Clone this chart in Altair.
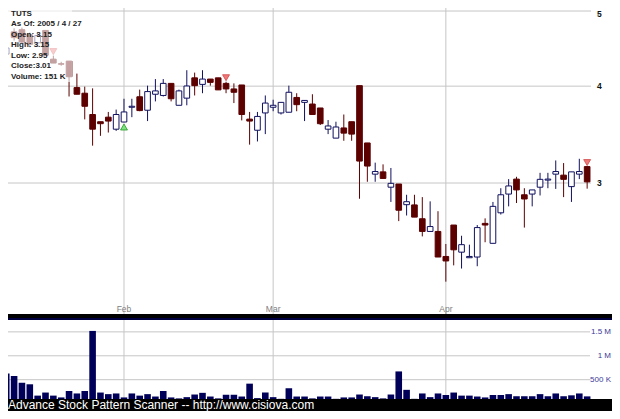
import altair as alt
import pandas as pd

# ---------------- data ----------------
ticker = "TUTS"
dates = [
    "2005-01-10", "2005-01-11", "2005-01-12", "2005-01-13", "2005-01-14",
    "2005-01-18", "2005-01-19", "2005-01-20", "2005-01-21", "2005-01-24",
    "2005-01-25", "2005-01-26", "2005-01-27", "2005-01-28", "2005-01-31",
    "2005-02-01", "2005-02-02", "2005-02-03", "2005-02-04", "2005-02-07",
    "2005-02-08", "2005-02-09", "2005-02-10", "2005-02-11", "2005-02-14",
    "2005-02-15", "2005-02-16", "2005-02-17", "2005-02-18", "2005-02-22",
    "2005-02-23", "2005-02-24", "2005-02-25", "2005-02-28",
    "2005-03-01", "2005-03-02", "2005-03-03", "2005-03-04", "2005-03-07",
    "2005-03-08", "2005-03-09", "2005-03-10", "2005-03-11", "2005-03-14",
    "2005-03-15", "2005-03-16", "2005-03-17", "2005-03-18", "2005-03-21",
    "2005-03-22", "2005-03-23", "2005-03-24", "2005-03-28", "2005-03-29",
    "2005-03-30", "2005-03-31",
    "2005-04-01", "2005-04-04", "2005-04-05", "2005-04-06", "2005-04-07",
    "2005-04-08", "2005-04-11", "2005-04-12", "2005-04-13", "2005-04-14",
    "2005-04-15", "2005-04-18", "2005-04-19", "2005-04-20", "2005-04-21",
    "2005-04-22", "2005-04-25", "2005-04-26", "2005-04-27",
]
opens = [4.40, 4.70, 4.73, 4.66, 4.55, 4.72, 4.334, 4.275, 4.309, 3.983,
         3.917, 3.677, 3.599, 3.648, 3.520, 3.596, 3.757, 3.876, 3.724, 3.905,
         3.891, 4.033, 3.779, 3.860, 4.100, 4.021, 4.085, 4.100, 4.033, 3.967,
         4.014, 3.627, 3.509, 3.694, 3.757, 3.694, 3.702, 3.868, 3.812, 3.793,
         3.749, 3.520, 3.428, 3.533, 3.599, 4.006, 3.379, 3.080, 3.101, 2.963,
         2.991, 2.813, 2.811, 2.698, 2.598, 2.598, 2.412, 2.648, 2.443, 2.403,
         2.408, 2.661, 2.508, 2.746, 2.903, 3.035, 2.897, 2.903, 2.963, 3.026,
         3.080, 3.071, 2.968, 3.080, 3.15]
highs = [4.52, 4.75, 4.76, 4.69, 4.70, 4.72, 4.38, 4.30, 4.309, 4.152,
         3.994, 3.974, 3.599, 3.705, 3.731, 3.853, 3.853, 3.959, 4.006, 4.085,
         4.085, 4.033, 3.959, 4.194, 4.164, 4.194, 4.085, 4.100, 4.053, 4.033,
         4.014, 3.705, 3.705, 3.891, 3.842, 3.812, 4.006, 3.917, 3.834, 3.905,
         3.749, 3.617, 3.599, 3.677, 3.599, 4.006, 3.379, 3.187, 3.171, 3.137,
         2.991, 2.897, 2.897, 2.877, 2.841, 2.759, 2.503, 2.648, 2.565, 2.498,
         2.648, 2.701, 2.836, 2.954, 3.035, 3.056, 2.954, 2.939, 3.092, 3.092,
         3.208, 3.183, 3.101, 3.224, 3.15]
lows = [4.11, 4.58, 4.53, 4.49, 4.50, 4.385, 4.284, 4.25, 3.879, 3.905,
        3.624, 3.352, 3.451, 3.485, 3.502, 3.596, 3.648, 3.713, 3.606, 3.823,
        3.879, 3.823, 3.779, 3.779, 3.891, 3.917, 4.006, 3.956, 3.917, 3.804,
        3.613, 3.362, 3.394, 3.469, 3.713, 3.677, 3.702, 3.713, 3.606, 3.677,
        3.564, 3.469, 3.428, 3.401, 3.401, 2.863, 3.011, 3.011, 3.041, 2.836,
        2.679, 2.724, 2.711, 2.560, 2.598, 2.408, 2.238, 2.349, 2.327, 2.403,
        2.343, 2.516, 2.508, 2.732, 2.799, 2.827, 2.628, 2.799, 2.891, 2.954,
        2.948, 2.877, 2.836, 3.035, 2.95]
closes = [4.48, 4.62, 4.56, 4.53, 4.65, 4.385, 4.284, 4.27, 4.113, 3.905,
          3.768, 3.520, 3.578, 3.606, 3.677, 3.705, 3.768, 3.720, 3.936, 3.944,
          4.033, 3.853, 3.944, 4.002, 4.006, 4.085, 4.045, 3.956, 3.967, 3.928,
          3.677, 3.606, 3.656, 3.804, 3.779, 3.812, 3.928, 3.786, 3.834, 3.677,
          3.578, 3.554, 3.543, 3.479, 3.469, 3.202, 3.155, 3.104, 3.041, 2.997,
          2.767, 2.838, 2.711, 2.598, 2.636, 2.408, 2.380, 2.460, 2.498, 2.412,
          2.628, 2.648, 2.799, 2.897, 2.974, 2.939, 2.861, 2.939, 3.033, 3.035,
          3.104, 3.033, 3.101, 3.104, 3.01]
volumes = [629000, 577000, 436000, 404000, 167000, 231000, 167000, 129000, 263000, 212000,
           263000, 1520000, 231000, 198000, 212000, 129000, 212000, 167000, 198000, 148000,
           263000, 129000, 109000, 135000, 190000, 225000, 148000, 109000, 185000, 185000,
           148000, 417000, 115000, 231000, 135000, 100000, 321000, 148000, 148000, 109000,
           148000, 148000, 100000, 129000, 129000, 190000, 154000, 135000, 109000, 190000,
           673000, 288000, 100000, 212000, 135000, 212000, 180000, 231000, 167000, 167000,
           148000, 129000, 180000, 180000, 198000, 154000, 154000, 154000, 198000, 154000,
           212000, 154000, 173000, 212000, 151000]
sell_signal_dates = ["2005-01-19", "2005-02-18", "2005-04-27"]
buy_signal_dates = ["2005-02-01"]
price_ticks = [3, 4, 5]
volume_ticks = [500000, 1000000, 1500000]
volume_tick_labels = ["500 K", "1 M", "1.5 M"]
footer = "Advance Stock Pattern Scanner -- http://www.cisiova.com"

# ---------------- layout ----------------
W, H = 604, 403
P_TOP, P_BOT = 0, 306
V_TOP, V_BOT = 311, 391
GRID = "#c6c6c6"
NAVY = "#10105e"
MAROON = "#5c0000"
FONT = "Liberation Sans"

df = pd.DataFrame({"date": dates, "open": opens, "high": highs, "low": lows,
                   "close": closes, "volume": volumes})
df["i"] = range(len(df))
df["dir"] = ["up" if c >= o else "down" for o, c in zip(df["open"], df["close"])]
df["top"] = df[["open", "close"]].max(axis=1)
df["bot"] = df[["open", "close"]].min(axis=1)
df["x0"] = df["i"] - 0.36
df["x1"] = df["i"] + 0.36
df["vx0"] = df["i"] - 0.42
df["vx1"] = df["i"] + 0.42
df["zero"] = 0

dt = pd.to_datetime(df["date"])
mstart = df[(dt.dt.month != dt.dt.month.shift(1)) & (df["i"] > 0)].copy()
mstart["label"] = pd.to_datetime(mstart["date"]).dt.strftime("%b")

sell = df[df["date"].isin(sell_signal_dates)]
buy = df[df["date"].isin(buy_signal_dates)]

last = df.iloc[-1]
d = pd.to_datetime(last["date"])
info_lines = [
    ticker,
    f"As Of: {d.year} / {d.month} / {d.day}",
    f"Open: {last['open']:.2f}",
    f"High: {last['high']:.2f}",
    f"Low: {last['low']:.2f}",
    f"Close:{last['close']:.2f}",
    f"Volume: {int(last['volume']) // 1000} K",
]
info = pd.DataFrame({"row": range(len(info_lines)), "t": info_lines})

ptk = pd.DataFrame({"p": price_ticks, "label": [str(v) for v in price_ticks]})
vtk = pd.DataFrame({"v": volume_ticks, "label": volume_tick_labels})
one = pd.DataFrame({"k": [0]})
PMAX = max(price_ticks)

xs = alt.Scale(domain=[0.223, 77.166], range=[0, W], nice=False, zero=False)
ps = alt.Scale(type="log", domain=[2.0331, 5.0451], range=[P_BOT, P_TOP], nice=False)
vs = alt.Scale(domain=[96154, 1769231], range=[V_BOT, V_TOP], nice=False, zero=False, clamp=True)

X = lambda f: alt.X(f, type="quantitative", scale=xs, axis=None)

bg_p = alt.Chart(one).mark_rect(fill="white").encode(
    x=alt.value(0), x2=alt.value(W), y=alt.value(P_TOP), y2=alt.value(P_BOT))
bg_v = alt.Chart(one).mark_rect(fill="white").encode(
    x=alt.value(0), x2=alt.value(W), y=alt.value(V_TOP), y2=alt.value(V_BOT))

mgrid_p = alt.Chart(mstart).mark_rule(color=GRID, strokeWidth=1).encode(
    x=X("i"), y=alt.value(P_TOP), y2=alt.value(P_BOT))
mgrid_v = alt.Chart(mstart).mark_rule(color=GRID, strokeWidth=1).encode(
    x=X("i"), y=alt.value(V_TOP), y2=alt.value(V_BOT))

pgrid = alt.Chart(ptk).mark_rule(color=GRID, strokeWidth=1).encode(
    y=alt.Y("p:Q", scale=ps, axis=None), x=alt.value(0), x2=alt.value(583))
plabel_style = dict(align="left", baseline="middle", font=FONT, fontSize=8.5,
                    fontWeight="bold", color="#111111")
plabels = alt.Chart(ptk).transform_filter(alt.datum.p < PMAX).mark_text(**plabel_style).encode(
    y=alt.Y("p:Q", scale=ps, axis=None), x=alt.value(589), text="label:N")
plabel_top = alt.Chart(ptk).transform_filter(alt.datum.p == PMAX).mark_text(dy=3, **plabel_style).encode(
    y=alt.Y("p:Q", scale=ps, axis=None), x=alt.value(589), text="label:N")

vgrid = alt.Chart(vtk).mark_rule(color=GRID, strokeWidth=1).encode(
    y=alt.Y("v:Q", scale=vs, axis=None), x=alt.value(0), x2=alt.value(582))
vlabels = alt.Chart(vtk).mark_text(align="right", baseline="middle", font=FONT,
                                   fontSize=8, color="#3a3a9a").encode(
    y=alt.Y("v:Q", scale=vs, axis=None), x=alt.value(603), text="label:N")

mlabels = alt.Chart(mstart).mark_text(baseline="middle", font=FONT, fontSize=8.5,
                                      color="#808080").encode(
    x=X("i"), y=alt.value(301), text="label:N")

wick_col = alt.Color("dir:N", scale=alt.Scale(domain=["up", "down"], range=[NAVY, MAROON]), legend=None)
wicks = alt.Chart(df).mark_rule(strokeWidth=1, clip=True).encode(
    x=X("i"), y=alt.Y("low:Q", scale=ps, axis=None), y2="high:Q", color=wick_col)

bodies = alt.Chart(df).mark_rect(strokeWidth=1, clip=True).encode(
    x=X("x0"), x2="x1:Q",
    y=alt.Y("bot:Q", scale=ps, axis=None), y2="top:Q",
    fill=alt.Fill("dir:N", scale=alt.Scale(domain=["up", "down"], range=["white", MAROON]), legend=None),
    stroke=alt.Stroke("dir:N", scale=alt.Scale(domain=["up", "down"], range=[NAVY, MAROON]), legend=None))

vbars = alt.Chart(df).mark_rect(fill="#000058", clip=True).encode(
    x=X("vx0"), x2="vx1:Q",
    y=alt.Y("volume:Q", scale=vs, axis=None), y2="zero:Q")

sell_m = alt.Chart(sell).mark_point(shape="triangle-down", filled=True, size=48, yOffset=-4,
                                    fill="#f07878", stroke="#d04848", strokeWidth=0.8, opacity=1).encode(
    x=X("i"), y=alt.Y("high:Q", scale=ps, axis=None))
buy_m = alt.Chart(buy).mark_point(shape="triangle-up", filled=True, size=48, yOffset=5,
                                  fill="#7ee07e", stroke="#229922", strokeWidth=0.8, opacity=1).encode(
    x=X("i"), y=alt.Y("low:Q", scale=ps, axis=None))

vtop_line = alt.Chart(one).mark_rule(color="#000040", strokeWidth=2).encode(
    x=alt.value(0), x2=alt.value(W), y=alt.value(V_TOP))

info_bg = alt.Chart(one).mark_rect(fill="white", opacity=0.63).encode(
    x=alt.value(0), x2=alt.value(64), y=alt.value(0), y2=alt.value(74))
info_txt = alt.Chart(info).mark_text(align="left", baseline="middle", font=FONT,
                                     fontSize=8, fontWeight="bold", color="#222222").encode(
    x=alt.value(3), y=alt.Y("row:Q", scale=alt.Scale(domain=[0, 6], range=[6, 68.7]), axis=None),
    text="t:N")

foot = alt.Chart(one).mark_text(align="left", baseline="alphabetic", font=FONT,
                                fontSize=12, color="white").encode(
    x=alt.value(0), y=alt.value(400.5), text=alt.value(footer))

chart = alt.layer(
    bg_p, bg_v, mgrid_p, mgrid_v, pgrid, vgrid, wicks, bodies, vbars,
    sell_m, buy_m, info_bg, info_txt, plabels, plabel_top, vlabels, mlabels, vtop_line, foot
).resolve_scale(y="independent").properties(
    width=W, height=H, background="black", padding=0,
    autosize=alt.AutoSizeParams(type="none")
).configure_view(fill="black", stroke=None)

chart.save("out.html", embed_options={"renderer": "svg", "actions": False})
